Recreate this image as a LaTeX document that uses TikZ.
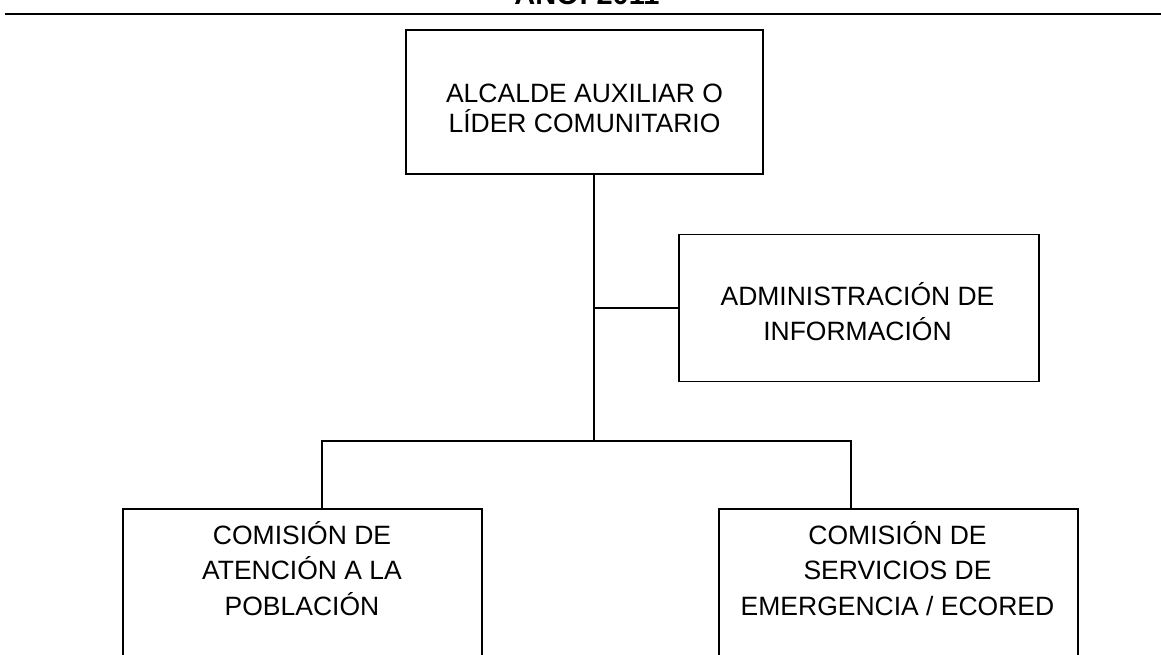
\documentclass[tikz,border=0pt]{standalone}
\usepackage{fontspec}
\setmainfont{Liberation Sans}
\begin{document}
\begin{tikzpicture}[x=1pt,y=-1pt,
  box/.style={draw, line width=1.6pt, rectangle, inner sep=0pt},
  lbl/.style={align=center, inner sep=0pt, anchor=base},
  wire/.style={line width=1.6pt}]
\clip (0,0) rectangle (1161,654);
\fill[white] (0,0) rectangle (1161,654);
% cropped heading
\node[font=\bfseries\fontsize{29}{29}\selectfont, anchor=base, inner sep=0pt] (title) at (587,4) {AÑO: 2011};
\coordinate (ruleL) at (5,14);
\coordinate (ruleR) at (1161,14);
\draw[line width=1.8pt] (ruleL) -- (ruleR);
% boxes
\node[box, minimum width=357pt, minimum height=144pt] (top) at (584.5,102) {};
\node[box, minimum width=360pt, minimum height=147pt] (mid) at (859,308) {};
\node[box, minimum width=359pt, minimum height=191pt] (left) at (302.5,604.5) {};
\node[box, minimum width=359pt, minimum height=191pt] (right) at (898.5,604.5) {};
% texts
\node[lbl, font=\fontsize{26.5}{30}\selectfont] (topT) at (584.5,132.7) {ALCALDE AUXILIAR O\\LÍDER COMUNITARIO};
\node[lbl, font=\fontsize{26.5}{35}\selectfont] (midT) at (857.5,340) {ADMINISTRACIÓN DE\\INFORMACIÓN};
\node[lbl, font=\fontsize{26.5}{35.5}\selectfont] (leftT) at (302,615) {COMISIÓN DE\\ATENCIÓN A LA\\POBLACIÓN};
\node[lbl, font=\fontsize{26.5}{35.5}\selectfont] (rightT) at (897.5,615) {COMISIÓN DE\\SERVICIOS DE\\EMERGENCIA / ECORED};
% connectors
\coordinate (trunk) at (594,441);
\coordinate (branch) at (594,308);
\coordinate (lj) at (322,441);
\coordinate (rj) at (851,441);
\draw[wire] (top.south -| trunk) -- (trunk);
\draw[wire] (branch) -- (mid.west);
\draw[wire] (left.north -| lj) -- (lj) -- (rj) -- (right.north -| rj);
\end{tikzpicture}
\end{document}
